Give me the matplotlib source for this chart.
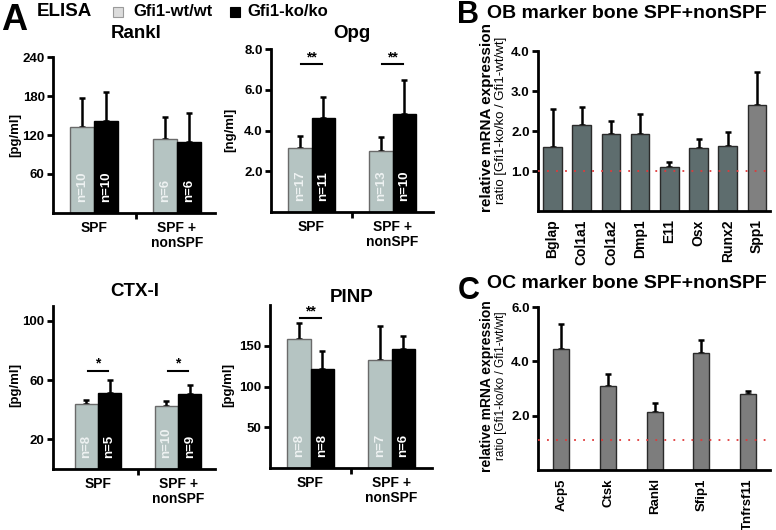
import matplotlib
matplotlib.use("Agg")
import matplotlib.pyplot as plt
import numpy as np

plt.rcParams["font.family"] = ["Liberation Sans", "DejaVu Sans"]
plt.rcParams["font.weight"] = "bold"

W, H = 776, 530

# ---- data ----
groups = ["SPF", "SPF +\nnonSPF"]

rankl_wt = [133, 114]
rankl_wt_err = [44, 34]
rankl_ko = [141, 110]
rankl_ko_err = [45, 44]
rankl_n_wt = ["n=10", "n=6"]
rankl_n_ko = ["n=10", "n=6"]

opg_wt = [3.14, 3.00]
opg_wt_err = [0.57, 0.67]
opg_ko = [4.63, 4.83]
opg_ko_err = [1.03, 1.67]
opg_n_wt = ["n=17", "n=13"]
opg_n_ko = ["n=11", "n=10"]
opg_sig_groups = [0, 1]
opg_sig_y = [7.26, 7.26]
opg_sig_text = ["**", "**"]

ctx_wt = [44.1, 42.3]
ctx_wt_err = [2.3, 3.6]
ctx_ko = [51.1, 50.9]
ctx_ko_err = [8.8, 5.6]
ctx_n_wt = ["n=8", "n=10"]
ctx_n_ko = ["n=5", "n=9"]
ctx_sig_groups = [0, 1]
ctx_sig_y = [66.2, 66.2]
ctx_sig_text = ["*", "*"]

pinp_wt = [158, 132]
pinp_wt_err = [20, 42]
pinp_ko = [121, 146]
pinp_ko_err = [23, 16]
pinp_n_wt = ["n=8", "n=7"]
pinp_n_ko = ["n=8", "n=6"]
pinp_sig_groups = [0]
pinp_sig_y = [184]
pinp_sig_text = ["**"]

ob_genes = ["Bglap", "Col1a1", "Col1a2", "Dmp1", "E11", "Osx", "Runx2", "Spp1"]
ob_ratio = [1.60, 2.15, 1.92, 1.92, 1.10, 1.58, 1.62, 2.64]
ob_err = [0.95, 0.45, 0.33, 0.50, 0.13, 0.23, 0.36, 0.83]
ob_colors = ["#5e6d6e"] * 7 + ["#808080"]

oc_genes = ["Acp5", "Ctsk", "Rankl", "Sfip1", "Tnfrsf11"]
oc_ratio = [4.44, 3.08, 2.15, 4.32, 2.79]
oc_err = [0.95, 0.46, 0.33, 0.48, 0.11]

wt_color = "#b5c4c2"
ko_color = "#000000"


def rect(x0, x1, ytop, ybot):
    return [x0 / W, 1 - ybot / H, (x1 - x0) / W, (ybot - ytop) / H]


def style_axes(ax):
    for s in ["top", "right"]:
        ax.spines[s].set_visible(False)
    for s in ["left", "bottom"]:
        ax.spines[s].set_linewidth(2.0)
    ax.tick_params(axis="y", direction="out", length=4, width=2,
                   labelsize=9.5, pad=2)
    for lab in ax.get_yticklabels():
        lab.set_fontweight("bold")


def elisa_panel(ax, title, wt, wt_err, ko, ko_err, n_wt, n_ko, ylim, yticks,
                fmt, xlim, sig_groups=(), sig_y=(), sig_text=()):
    x = np.arange(len(groups))
    w = 0.29
    ax.bar(x - w / 2, wt, w, color=wt_color, edgecolor="#6a6a6a", lw=1, zorder=2)
    ax.bar(x + w / 2, ko, w, color=ko_color, edgecolor="k", lw=1, zorder=2)
    ax.errorbar(x - w / 2, wt, yerr=[np.zeros(len(wt)), wt_err], fmt="none",
                ecolor="k", elinewidth=1.8, capsize=2.2, capthick=1.8, zorder=1)
    ax.errorbar(x + w / 2, ko, yerr=[np.zeros(len(ko)), ko_err], fmt="none",
                ecolor="k", elinewidth=1.8, capsize=2.2, capthick=1.8, zorder=1)
    for i in range(len(groups)):
        ax.annotate(n_wt[i], xy=(x[i] - w / 2, 0), xycoords=("data", "axes fraction"),
                    xytext=(0, 8), textcoords="offset points", rotation=90,
                    ha="center", va="bottom", color="#eef2f2", fontsize=9.5,
                    fontweight="bold", zorder=3)
        ax.annotate(n_ko[i], xy=(x[i] + w / 2, 0), xycoords=("data", "axes fraction"),
                    xytext=(0, 8), textcoords="offset points", rotation=90,
                    ha="center", va="bottom", color="white", fontsize=9.5,
                    fontweight="bold", zorder=3)
    for g, yv, t in zip(sig_groups, sig_y, sig_text):
        ax.plot([g - 0.125, g + 0.125], [yv, yv], color="k", lw=1.5)
        ax.text(g, yv, t, ha="center", va="bottom", fontsize=10)
    ax.set_xlim(*xlim)
    ax.set_ylim(*ylim)
    ax.set_yticks(yticks)
    ax.set_yticklabels([fmt.format(v) for v in yticks])
    ax.set_xticks(x)
    ax.set_xticklabels(groups, fontsize=10, fontweight="bold", linespacing=1.1)
    ax.set_xticks([0.5], minor=True)
    ax.tick_params(axis="x", which="major", length=0, pad=6)
    ax.tick_params(axis="x", which="minor", length=4, width=2, direction="out")
    style_axes(ax)


fig = plt.figure(figsize=(W / 100, H / 100), dpi=100)

# header
fig.text(1 / W, 1 - 20 / H, "A", fontsize=26, fontweight="bold", va="center")
fig.text(37 / W, 1 - 12 / H, "ELISA", fontsize=13.5, fontweight="bold", va="center")
fig.patches.append(plt.Rectangle((113 / W, 1 - 17 / H), 10 / W, 10 / H,
                                 transform=fig.transFigure, facecolor="#dcdcdc",
                                 edgecolor="#9a9a9a", lw=0.8))
fig.text(133 / W, 1 - 12 / H, "Gfi1-wt/wt", fontsize=12, fontweight="bold", va="center")
fig.patches.append(plt.Rectangle((230 / W, 1 - 17 / H), 10 / W, 10 / H,
                                 transform=fig.transFigure, facecolor="k",
                                 edgecolor="k", lw=0.8))
fig.text(247 / W, 1 - 12 / H, "Gfi1-ko/ko", fontsize=12, fontweight="bold", va="center")

# Rankl
ax1 = fig.add_axes(rect(53, 215, 57, 213))
elisa_panel(ax1, "Rankl", rankl_wt, rankl_wt_err, rankl_ko, rankl_ko_err,
            rankl_n_wt, rankl_n_ko, (0, 240), [60, 120, 180, 240], "{:.0f}",
            (-0.5, 1.46))
fig.text(136 / W, 1 - 34 / H, "Rankl", fontsize=13.5, fontweight="bold",
         ha="center", va="center")
fig.text(15 / W, 1 - 135 / H, "[pg/ml]", fontsize=9.5, fontweight="bold",
         rotation=90, ha="center", va="center")

# Opg
ax2 = fig.add_axes(rect(271, 433, 49, 212))
elisa_panel(ax2, "Opg", opg_wt, opg_wt_err, opg_ko, opg_ko_err,
            opg_n_wt, opg_n_ko, (0, 8), [2, 4, 6, 8], "{:.1f}",
            (-0.5, 1.5), opg_sig_groups, opg_sig_y, opg_sig_text)
fig.text(352 / W, 1 - 34 / H, "Opg", fontsize=13.5, fontweight="bold",
         ha="center", va="center")
fig.text(230 / W, 1 - 130 / H, "[ng/ml]", fontsize=9.5, fontweight="bold",
         rotation=90, ha="center", va="center")

# CTX-I
ax3 = fig.add_axes(rect(53, 215, 306, 469))
elisa_panel(ax3, "CTX-I", ctx_wt, ctx_wt_err, ctx_ko, ctx_ko_err,
            ctx_n_wt, ctx_n_ko, (0, 110), [20, 60, 100], "{:.0f}",
            (-0.56, 1.46), ctx_sig_groups, ctx_sig_y, ctx_sig_text)
fig.text(135 / W, 1 - 291 / H, "CTX-I", fontsize=13.5, fontweight="bold",
         ha="center", va="center")
fig.text(15 / W, 1 - 385 / H, "[pg/ml]", fontsize=9.5, fontweight="bold",
         rotation=90, ha="center", va="center")

# PINP
ax4 = fig.add_axes(rect(270, 432, 305, 468))
elisa_panel(ax4, "PINP", pinp_wt, pinp_wt_err, pinp_ko, pinp_ko_err,
            pinp_n_wt, pinp_n_ko, (0, 200), [50, 100, 150], "{:.0f}",
            (-0.5, 1.5), pinp_sig_groups, pinp_sig_y, pinp_sig_text)
fig.text(352 / W, 1 - 297 / H, "PINP", fontsize=13.5, fontweight="bold",
         ha="center", va="center")
fig.text(228 / W, 1 - 385 / H, "[pg/ml]", fontsize=9.5, fontweight="bold",
         rotation=90, ha="center", va="center")


def marker_panel(ax, genes, ratio, err, colors, width, xlim, ylim, yticks,
                 ref, labelsize):
    x = np.arange(len(genes))
    ax.bar(x, ratio, width, color=colors, edgecolor="#2a2a2a", lw=1, zorder=2)
    ax.errorbar(x, ratio, yerr=[np.zeros(len(ratio)), err], fmt="none",
                ecolor="k", elinewidth=1.8, capsize=2.2, capthick=1.8, zorder=1)
    ax.axhline(ref, color="#e03a3a", lw=1.3, ls=(0, (1, 4)), zorder=3)
    ax.set_xlim(*xlim)
    ax.set_ylim(*ylim)
    ax.set_yticks(yticks)
    ax.set_yticklabels(["{:.1f}".format(v) for v in yticks])
    ax.set_xticks(x)
    ax.set_xticklabels(genes, rotation=90, fontsize=labelsize, fontweight="bold")
    ax.tick_params(axis="x", length=0, pad=6)
    style_axes(ax)


# B
fig.text(457 / W, 1 - 15 / H, "B", fontsize=22, fontweight="bold", va="center")
fig.text(487 / W, 1 - 13 / H, "OB marker bone SPF+nonSPF", fontsize=14,
         fontweight="bold", va="center")
ax5 = fig.add_axes(rect(538, 770, 51, 211))
marker_panel(ax5, ob_genes, ob_ratio, ob_err, ob_colors, 0.64, (-0.5, 7.45),
             (0, 4), [1, 2, 3, 4], 1.0, 10)
fig.text(487 / W, 1 - 118 / H, "relative mRNA expression", fontsize=11,
         fontweight="bold", rotation=90, ha="center", va="center")
fig.text(501 / W, 1 - 120 / H, "ratio [Gfi1-ko/ko / Gfi1-wt/wt]", fontsize=9.5,
         fontweight="normal", rotation=90, ha="center", va="center")

# C
fig.text(458 / W, 1 - 291 / H, "C", fontsize=22, fontweight="bold", va="center")
fig.text(487 / W, 1 - 283 / H, "OC marker bone SPF+nonSPF", fontsize=14,
         fontweight="bold", va="center")
ax6 = fig.add_axes(rect(538, 770, 307, 470))
marker_panel(ax6, oc_genes, oc_ratio, oc_err, ["#7d7d7d"] * len(oc_genes), 0.34,
             (-0.5, 4.47), (0, 6), [2, 4, 6], 1.1, 9.5)
fig.text(487 / W, 1 - 386 / H, "relative mRNA expression", fontsize=10,
         fontweight="bold", rotation=90, ha="center", va="center")
fig.text(501 / W, 1 - 386 / H, "ratio [Gfi1-ko/ko / Gfi1-wt/wt]", fontsize=8.5,
         fontweight="normal", rotation=90, ha="center", va="center")

fig.savefig("out.png", dpi=100)
